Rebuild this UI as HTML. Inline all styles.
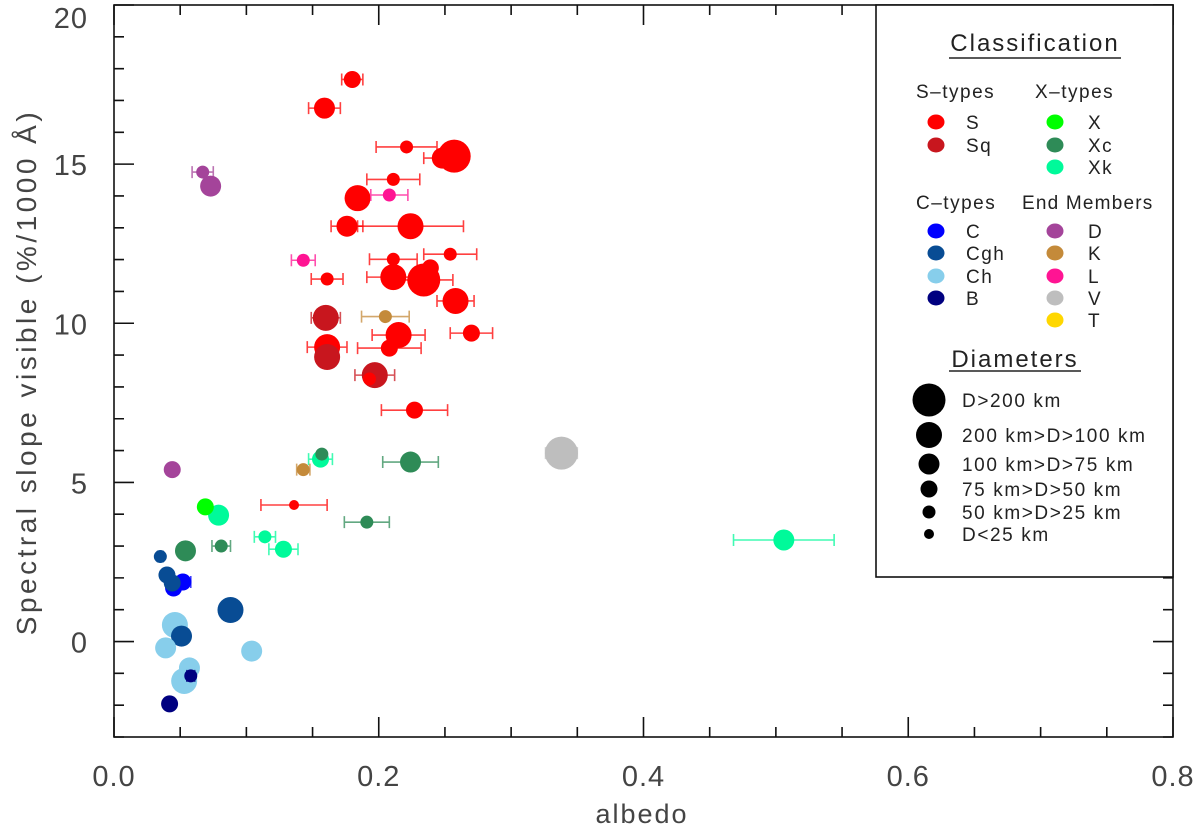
<!DOCTYPE html>
<html><head><meta charset="utf-8"><style>
html,body{margin:0;padding:0;background:#fff;}
svg{display:block;font-family:"Liberation Sans","DejaVu Sans",sans-serif;}
</style></head><body>
<svg id="chart" width="1200" height="830" viewBox="0 0 1200 830" xmlns="http://www.w3.org/2000/svg">
<g id="marks"></g>
<g id="axes"></g>
<g id="legend"></g>
</svg>
<script>
const albedo=[.180,.159,.221,.248,.257,.211,.208,.184,.176,.224,.143,.161,.211,.254,.211,.234,.239,.258,.160,.205,.215,.208,.270,.161,.161,.197,.193,.227,.067,.073,.044,.069,.079,.081,.054,.114,.128,.136,.157,.156,.143,.224,.191,.338,.506,.035,.040,.045,.052,.044,.088,.046,.051,.039,.104,.057,.053,.058,.042];
const slope=[17.66,16.76,15.54,15.19,15.25,14.52,14.03,13.93,13.05,13.05,11.98,11.39,12.01,12.17,11.45,11.36,11.74,10.70,10.17,10.21,9.63,9.22,9.69,9.25,8.94,8.37,8.25,7.27,14.75,14.31,5.40,4.23,3.97,3.00,2.85,3.29,2.90,4.29,5.89,5.73,5.40,5.64,3.75,5.92,3.19,2.67,2.09,1.68,1.87,1.84,0.99,0.52,0.17,-0.20,-0.30,-0.83,-1.24,-1.08,-1.96];
const albedoErr=[.008,.012,.023,.014,0,.020,.014,0,.012,.040,.009,.012,.018,.020,.020,.022,0,.014,.011,.018,.020,.024,.016,.015,0,.015,0,.025,.008,0,0,0,0,.007,0,.008,.011,.025,0,.009,.005,.021,.017,.012,.038,.002,0,0,.006,0,0,0,0,0,0,.005,0,.003,0];
const taxType=["S","S","S","S","S","S","L","S","S","S","L","S","S","S","S","S","S","S","Sq","K","S","S","S","S","Sq","Sq","S","S","D","D","D","X","Xk","Xc","Xc","Xk","Xk","S","Xc","Xk","K","Xc","Xc","V","Xk","Cgh","Cgh","C","C","Cgh","Cgh","Ch","Cgh","Ch","Ch","Ch","Ch","B","B"];
const sizeClass=[3,2,4,2,0,4,4,1,2,1,4,4,4,4,1,0,3,1,1,4,1,3,3,1,1,1,4,3,4,2,3,3,2,4,2,4,3,5,4,3,4,2,4,0,2,4,3,3,3,3,1,1,2,2,2,2,1,4,3];
const classLabels=["D>200 km","200 km>D>100 km","100 km>D>75 km","75 km>D>50 km","50 km>D>25 km","D<25 km"];
const xTicks=[0,0.2,0.4,0.6,0.8];
const yTicks=[0,5,10,15,20];
const colors={S:"#ff0000",Sq:"#c8161e",X:"#00ff00",Xc:"#2e8b57",Xk:"#00fa9a",C:"#0000ff",Cgh:"#084c94",Ch:"#87ceeb",B:"#000080",D:"#a4449a",K:"#c48a3a",L:"#ff1493",V:"#bebebe",T:"#ffd700"};
const radii=[16.5,13,10.5,8.5,6.5,5];
const NS="http://www.w3.org/2000/svg";
const L=114,R=1173,T=5,B=737,xMin=0,xMax=0.8,yMin=-3,yMax=20;
const xs=v=>L+(v-xMin)/(xMax-xMin)*(R-L);
const ys=v=>B-(v-yMin)/(yMax-yMin)*(B-T);
function mk(tag,attrs,parent){const e=document.createElementNS(NS,tag);for(const k in attrs)e.setAttribute(k,attrs[k]);parent.appendChild(e);return e;}
const marks=document.getElementById('marks');
const order=albedo.map((a,i)=>i).sort((a,b)=>sizeClass[a]-sizeClass[b]);
order.forEach(i=>{
  const g=mk('g',{},marks);
  
  
  const cx=xs(albedo[i]),cy=ys(slope[i]),c=colors[taxType[i]];
  if(albedoErr[i]>0){
    const x1=xs(albedo[i]-albedoErr[i]),x2=xs(albedo[i]+albedoErr[i]);
    const eb=mk('path',{d:`M${x1},${cy}H${x2}M${x1},${cy-6}V${cy+6}M${x2},${cy-6}V${cy+6}`,stroke:c,'stroke-width':1.6,'stroke-opacity':0.75,fill:'none'},g);
    
    
  }
  const ci=mk('circle',{cx:cx,cy:cy,r:radii[sizeClass[i]],fill:c},g);
  
  
});
const ax=document.getElementById('axes');
mk('rect',{x:L,y:T,width:R-L,height:B-T,fill:'none',stroke:'#111','stroke-width':1.6},ax);
let d='';
for(let v=0;v<=0.8001;v+=0.05){const x=xs(v);const major=Math.abs(v/0.2-Math.round(v/0.2))<1e-6;const len=major?20:10;d+=`M${x},${B}V${B-len}M${x},${T}V${T+len}`;}
for(let v=-3;v<=20;v+=1){const y=ys(v);const len=(v%5===0)?20:10;d+=`M${L},${y}H${L+len}M${R},${y}H${R-len}`;}
const tk=mk('path',{d:d,stroke:'#111','stroke-width':1.6,fill:'none'},ax);


xTicks.forEach(v=>{const t=mk('text',{x:xs(v),y:786,'text-anchor':'middle','font-size':29,fill:'#444','letter-spacing':1},ax);t.textContent=v.toFixed(1);

});
yTicks.forEach(v=>{const t=mk('text',{x:88,y:Math.max(ys(v)+11,28),'text-anchor':'end','font-size':29,fill:'#444','letter-spacing':1},ax);t.textContent=String(v);

});
const xt=mk('text',{x:642,y:823,'text-anchor':'middle','font-size':27,fill:'#444','letter-spacing':2},ax);xt.textContent='albedo';


const yt=mk('text',{x:0,y:0,'text-anchor':'middle','font-size':28,fill:'#444','letter-spacing':3.5,transform:'translate(36,372) rotate(-90)'},ax);yt.textContent='Spectral slope visible (%/1000 Å)';


const lg=document.getElementById('legend');
mk('rect',{x:876,y:T,width:R-876,height:572,fill:'#fff',stroke:'#111','stroke-width':1.6},lg);
function txt(s,x,y,size,anchor,name,ls){const t=mk('text',{x:x,y:y,'font-size':size,fill:'#222','text-anchor':anchor||'start','letter-spacing':ls||1.5},lg);t.textContent=s;return t;}
txt('Classification',1035,51,24,'middle','legend-title',2);
mk('line',{x1:949,x2:1121,y1:58,y2:58,stroke:'#222','stroke-width':1.5},lg);
txt('S–types',916,98,19,'start','legend-group-s');
txt('X–types',1035,98,19,'start','legend-group-x');
txt('C–types',916,209,19,'start','legend-group-c');
txt('End Members',1022,209,19,'start','legend-group-end',1.2);
const groups=[[936,966,[["S",122],["Sq",145]]],[1055,1088,[["X",122],["Xc",145],["Xk",167]]],[936,966,[["C",231],["Cgh",253],["Ch",276],["B",298]]],[1055,1088,[["D",231],["K",253],["L",276],["V",298],["T",320]]]];
groups.forEach(g=>g[2].forEach(([k,y])=>{const c=mk('ellipse',{cx:g[0],cy:y,rx:8.5,ry:7.5,fill:colors[k]},lg);


txt(k,g[1],y+7,19,'start','legend-label-'+k);}));
txt('Diameters',1015,367,24,'middle','diameters-title',2);
mk('line',{x1:949,x2:1081,y1:371,y2:371,stroke:'#222','stroke-width':1.5},lg);
const sy=[400,435,464,489,512,534];
classLabels.forEach((s,i)=>{const c=mk('circle',{cx:929,cy:sy[i],r:radii[i],fill:'#000'},lg);


txt(s,962,sy[i]+7,19,'start','legend-size-label',1.6);});
</script>
</body></html>
